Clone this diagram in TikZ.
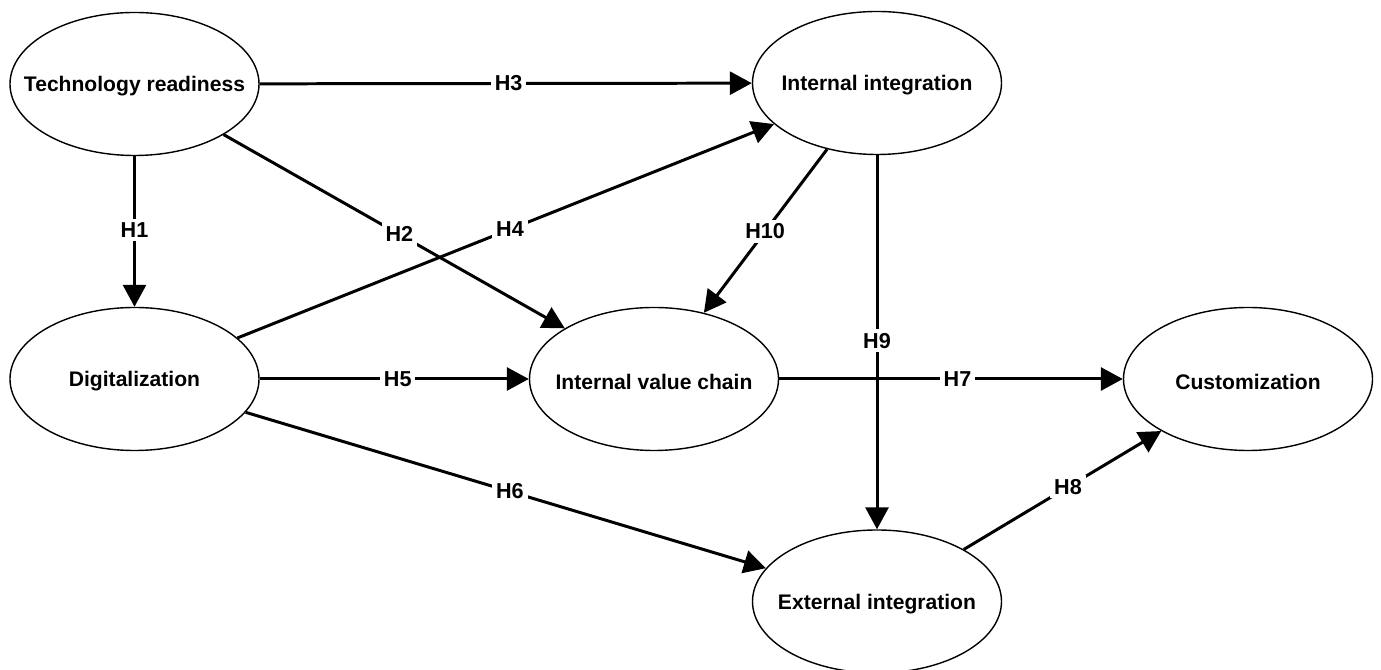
\documentclass[tikz,border=0pt]{standalone}
\usepackage{fontspec}
\setmainfont{Liberation Sans}
\usetikzlibrary{arrows.meta,shapes.geometric}
\begin{document}
\begin{tikzpicture}[
  ell/.style={ellipse, draw=black, line width=0.8pt, fill=white, minimum width=4.98cm, minimum height=2.86cm, inner sep=0pt,
    label={[font=\fontsize{12}{14}\selectfont\bfseries, yshift=-0.05cm]center:#1}},
  conn/.style={line width=1.7pt, -{Triangle[length=0.44cm,width=0.46cm]}},
  lab/.style={fill=white, inner sep=2.2pt, font=\fontsize{12.3}{14}\selectfont\bfseries}
]
\useasboundingbox (0,0) rectangle (27.62,13.4);
\node[ell={Technology readiness}] (tr) at (2.69,11.72) {};
\node[ell={Internal integration}] (ii) at (17.54,11.74) {};
\node[ell={Digitalization}] (dig) at (2.69,5.82) {};
\node[ell={Internal value chain}] (ivc) at (13.08,5.82) {};
\node[ell={Customization}] (cus) at (24.96,5.82) {};
\node[ell={External integration}] (ei) at (17.54,1.37) {};

\draw[conn] (tr) -- node[lab, pos=0.506] (l3) {H3} (ii);
\draw[conn] (tr) -- node[lab, pos=0.49] (l1) {H1} (dig);
\draw[conn] (tr) -- node[lab, pos=0.515] (l2) {H2} (ivc);
\draw[conn] (dig) -- node[lab, pos=0.508] (l4) {H4} (ii);
\draw[conn] (dig) -- node[lab, pos=0.513] (l5) {H5} (ivc);
\draw[conn] (dig) -- node[lab, pos=0.508] (l6) {H6} (ei);
\draw[conn] (ivc) -- node[lab, pos=0.519] (l7) {H7} (cus);
\draw[conn] (ii) -- node[lab, pos=0.496] (l9) {H9} (ei);
\draw[conn] (ii) -- node[lab, pos=0.503] (l10) {H10} (ivc);
\draw[conn] (ei) -- node[lab, pos=0.528] (l8) {H8} (cus);
\end{tikzpicture}
\end{document}
